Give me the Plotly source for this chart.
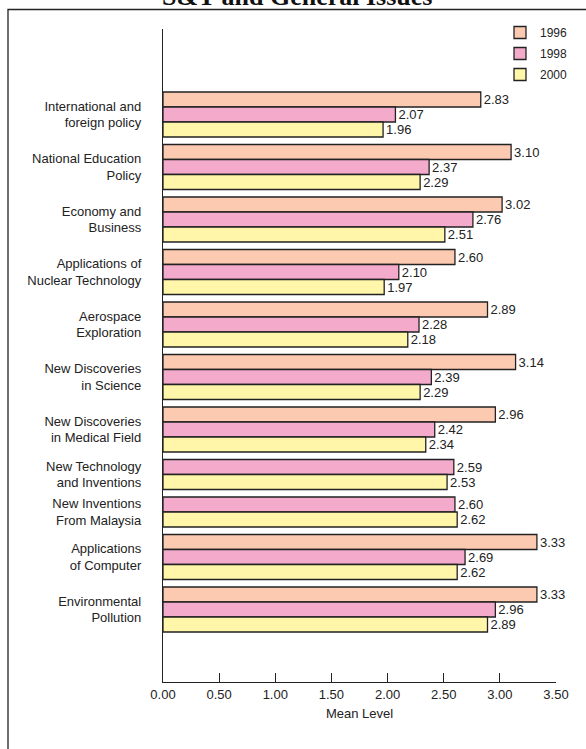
import plotly.graph_objects as go

# ---------------- datos ----------------
issues = [
    "International and<br>foreign policy",
    "National Education<br>Policy",
    "Economy and<br>Business",
    "Applications of<br>Nuclear Technology",
    "Aerospace<br>Exploration",
    "New Discoveries<br>in Science",
    "New Discoveries<br>in Medical Field",
    "New Technology<br>and Inventions",
    "New Inventions<br>From Malaysia",
    "Applications<br>of Computer",
    "Environmental<br>Pollution",
]
years = ["1996", "1998", "2000"]
mean_1996 = [2.83, 3.10, 3.02, 2.60, 2.89, 3.14, 2.96, None, None, 3.33, 3.33]
mean_1998 = [2.07, 2.37, 2.76, 2.10, 2.28, 2.39, 2.42, 2.59, 2.60, 2.69, 2.96]
mean_2000 = [1.96, 2.29, 2.51, 1.97, 2.18, 2.29, 2.34, 2.53, 2.62, 2.62, 2.89]
x_ticks = [0, 0.5, 1.0, 1.5, 2.0, 2.5, 3.0, 3.5]

colors = {"1996": "#FCCAB0", "1998": "#F3AACB", "2000": "#FFF6AA"}
series = {"1996": mean_1996, "1998": mean_1998, "2000": mean_2000}

# ---------------- medidas ----------------
W, H = 586, 749
L, R, T, B = 163, 30, 29, 67
pw, ph = W - L - R, H - T - B

# posiciones de barras (solo las que existen, sin huecos)
GAP = 0.5
pos = 0.0
bar_y = {y: [None] * len(issues) for y in years}
centers = []
for i in range(len(issues)):
    cs = []
    for y in years:
        if series[y][i] is not None:
            bar_y[y][i] = pos + 0.5
            cs.append(pos + 0.5)
            pos += 1
    centers.append(sum(cs) / len(cs))
    pos += GAP
end = pos - GAP

unit = 15.0
top_pad = (92 - T) / unit
bot_pad = (H - B - 632) / unit

fig = go.Figure()
for y in years:
    xs = [v for v in series[y] if v is not None]
    ys = [p for p, v in zip(bar_y[y], series[y]) if v is not None]
    fig.add_trace(go.Bar(
        x=xs, y=ys, orientation="h", name=y, width=1,
        marker=dict(color=colors[y], line=dict(color="#222222", width=1.3)),
        texttemplate="%{x:.2f}", textposition="outside",
        textfont=dict(size=13, color="#222222"),
        cliponaxis=False, legendgroup=y,
    ))

font = "Liberation Sans, Arial, sans-serif"

fig.update_layout(
    width=W, height=H,
    margin=dict(l=L, r=R, t=T, b=B),
    plot_bgcolor="white", paper_bgcolor="white",
    font=dict(family=font, size=13, color="#222222"),
    showlegend=True,
    legend=dict(
        x=(500 - L) / pw, y=(H - B - 18) / ph, xanchor="left", yanchor="top",
        font=dict(size=12), tracegroupgap=2, bgcolor="rgba(0,0,0,0)",
    ),
)

fig.update_xaxes(
    range=[0, 3.5], tickvals=x_ticks, tickformat=".2f",
    ticks="inside", ticklen=9, tickwidth=1.3, tickcolor="#222222",
    showline=True, linecolor="#222222", linewidth=1.3,
    showgrid=False, zeroline=False,
    title=dict(text="Mean Level", font=dict(size=13), standoff=8),
    tickfont=dict(size=13),
)
fig.update_yaxes(
    range=[end + bot_pad, -top_pad],
    tickvals=centers, ticktext=issues,
    ticks="outside", ticklen=18, tickcolor="rgba(0,0,0,0)",
    showline=True, linecolor="#222222", linewidth=1.3,
    showgrid=False, zeroline=False, tickfont=dict(size=13),
)

# titulo cortado arriba y marco
fig.add_annotation(
    text="<b>S&T and General Issues</b>", showarrow=False,
    xref="paper", yref="paper",
    x=(297 - L) / pw, y=(H - B + 4) / ph, xanchor="center", yanchor="middle",
    font=dict(family="Liberation Serif, Times New Roman, serif", size=26, color="#111111"),
)
fig.add_shape(
    type="rect", xref="paper", yref="paper",
    x0=(8 - L) / pw, x1=(W + 10 - L) / pw,
    y0=-(B + 10) / ph, y1=(H - B - 9.5) / ph,
    line=dict(color="#222222", width=1.3), fillcolor="rgba(0,0,0,0)", layer="below",
)

fig.write_html("out.html", config={"displayModeBar": False},
               post_script="document.body.style.margin='0';")
